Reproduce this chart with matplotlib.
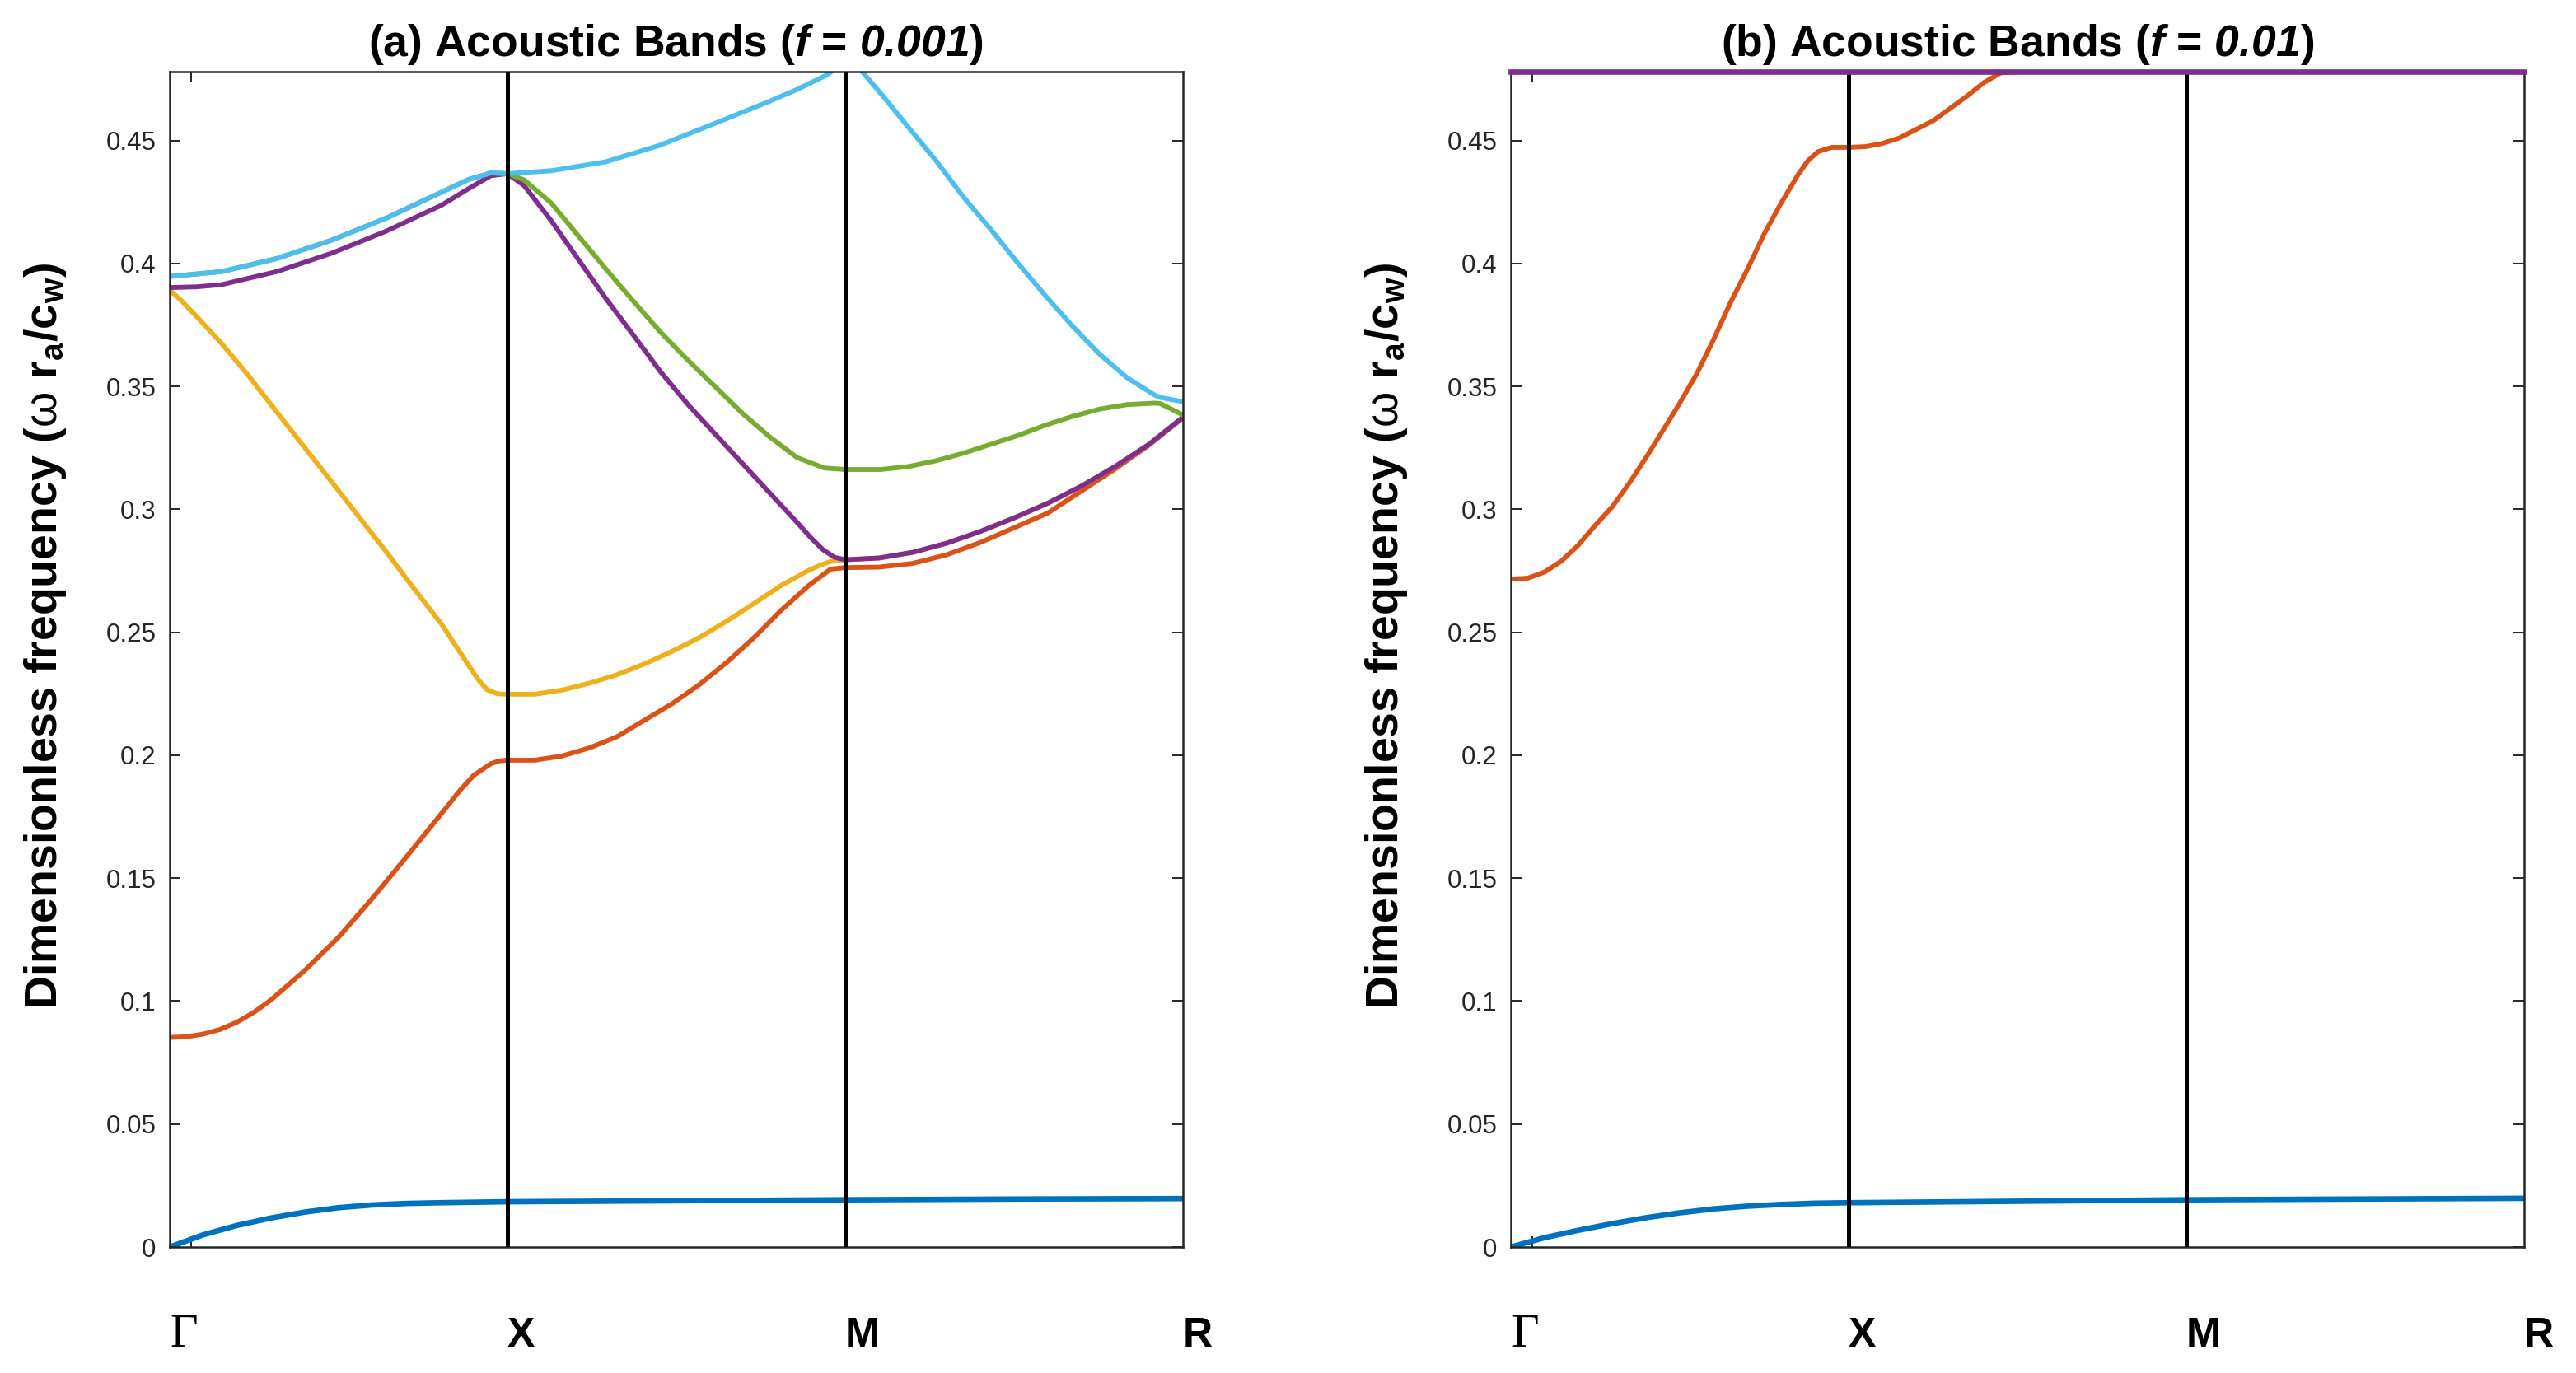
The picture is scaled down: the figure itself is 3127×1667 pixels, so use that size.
import matplotlib
matplotlib.use("Agg")
import matplotlib.pyplot as plt
from matplotlib.transforms import blended_transform_factory

plt.rcParams['font.family'] = ['Liberation Sans', 'DejaVu Sans']
plt.rcParams['mathtext.fontset'] = 'custom'
plt.rcParams['mathtext.rm'] = 'Liberation Sans'
plt.rcParams['mathtext.bf'] = 'Liberation Sans:bold'
plt.rcParams['mathtext.it'] = 'Liberation Sans:italic:bold'
plt.rcParams['mathtext.sf'] = 'Liberation Sans:italic:bold'

# ---------------- data ----------------
k_labels = ['Γ', 'X', 'M', 'R']
k_positions = [0, 1, 2, 3]
y_ticks = [0, 0.05, 0.1, 0.15, 0.2, 0.25, 0.3, 0.35, 0.4, 0.45]
y_tick_labels = ['0', '0.05', '0.1', '0.15', '0.2', '0.25', '0.3', '0.35', '0.4', '0.45']
y_max = 0.478
minor_x_tick = [0.063]

titles = [r'(a) Acoustic Bands ($\mathsf{f}$ = $\mathsf{0.001}$)',
          r'(b) Acoustic Bands ($\mathsf{f}$ = $\mathsf{0.01}$)']
y_label = r'Dimensionless frequency ($\mathrm{\omega}$ $\mathbf{r_a/c_w}$)'

# panel (a)  f = 0.001
a_band1_k = [0, 0.1, 0.2, 0.3, 0.4, 0.5, 0.6, 0.7, 0.8, 0.9, 1.0, 1.5, 2.0, 2.5, 3.0]
a_band1_v = [0, 0.005, 0.0088, 0.0118, 0.0142, 0.016, 0.0171, 0.0177, 0.018, 0.0182, 0.0184,
             0.0188, 0.0192, 0.0195, 0.0197]

a_band2_k = [0, 0.05, 0.1, 0.15, 0.2, 0.25, 0.3, 0.4, 0.5, 0.6, 0.7, 0.8, 0.86, 0.9, 0.95, 0.975, 1.0,
             1.081, 1.162, 1.243, 1.324, 1.405, 1.487, 1.568, 1.649, 1.73, 1.81, 1.892, 1.957, 2.0,
             2.1, 2.2, 2.3, 2.4, 2.5, 2.6, 2.7, 2.8, 2.9, 3.0]
a_band2_v = [0.0852, 0.0855, 0.0866, 0.0885, 0.0915, 0.0955, 0.1005, 0.1125, 0.126, 0.1418, 0.1585, 0.1755,
             0.1858, 0.1918, 0.1965, 0.1977, 0.198,
             0.198, 0.1997, 0.203, 0.2075, 0.2142, 0.2209, 0.2287, 0.2377, 0.2478, 0.2589, 0.269, 0.2757, 0.2763,
             0.2765, 0.278, 0.2815, 0.2865, 0.2925, 0.2985, 0.3075, 0.3165, 0.3262, 0.3372]

a_band3_k = [0, 0.035, 0.073, 0.154, 0.236, 0.317, 0.398, 0.48, 0.561, 0.642, 0.724, 0.805, 0.886, 0.915,
             0.94, 0.97, 1.0,
             1.081, 1.162, 1.243, 1.324, 1.405, 1.487, 1.568, 1.649, 1.73, 1.81, 1.892, 1.93, 1.957, 2.0,
             2.1, 2.2, 2.3, 2.4, 2.5, 2.6, 2.7, 2.8, 2.9, 3.0]
a_band3_v = [0.3892, 0.3848, 0.3794, 0.3674, 0.3539, 0.3396, 0.3254, 0.3111, 0.2968, 0.2826, 0.2676, 0.2533,
             0.2363, 0.2305, 0.2266, 0.2250, 0.2248,
             0.2248, 0.2265, 0.2293, 0.2327, 0.2371, 0.2422, 0.2478, 0.2545, 0.2617, 0.269, 0.2752, 0.2775,
             0.2788, 0.2795,
             0.2802, 0.2825, 0.2862, 0.291, 0.2965, 0.3025, 0.3095, 0.3175, 0.3265, 0.3375]

a_band4_k = [0, 0.08, 0.154, 0.317, 0.48, 0.642, 0.805, 0.886, 0.951, 1.0,
             1.049, 1.13, 1.21, 1.29, 1.372, 1.453, 1.534, 1.615, 1.696, 1.777, 1.858, 1.9, 1.935, 1.968, 2.0,
             2.1, 2.2, 2.3, 2.4, 2.5, 2.6, 2.7, 2.8, 2.9, 3.0]
a_band4_v = [0.3902, 0.3905, 0.3914, 0.3967, 0.4042, 0.4132, 0.4237, 0.4305, 0.4357, 0.4365,
             0.4317, 0.4173, 0.4016, 0.386, 0.371, 0.356, 0.3427, 0.3306, 0.3186, 0.3066, 0.2946, 0.2882,
             0.2835, 0.2805, 0.2795,
             0.2802, 0.2825, 0.2862, 0.291, 0.2965, 0.3025, 0.3095, 0.3175, 0.3265, 0.3375]

a_band5_k = [0, 0.154, 0.317, 0.48, 0.642, 0.805, 0.886, 0.951, 1.0,
             1.049, 1.13, 1.21, 1.29, 1.372, 1.453, 1.534, 1.615, 1.696, 1.777, 1.858, 1.939, 2.0,
             2.105, 2.187, 2.27, 2.349, 2.43, 2.511, 2.592, 2.673, 2.754, 2.835, 2.916, 2.933, 3.0]
a_band5_v = [0.3947, 0.3967, 0.402, 0.4095, 0.4185, 0.429, 0.4342, 0.4368, 0.4365,
             0.434, 0.4245, 0.4112, 0.398, 0.3848, 0.3721, 0.3607, 0.3499, 0.339, 0.3294, 0.321, 0.3168, 0.3162,
             0.3162, 0.3174, 0.3198, 0.3228, 0.3264, 0.330, 0.3342, 0.3378, 0.3408, 0.3426, 0.3432, 0.343, 0.3384]

a_band6_k = [0, 0.154, 0.317, 0.48, 0.642, 0.805, 0.886, 0.951, 1.0,
             1.13, 1.29, 1.45, 1.615, 1.777, 1.858, 1.939, 1.97, 2.0,
             2.05, 2.105, 2.187, 2.27, 2.349, 2.43, 2.511, 2.592, 2.673, 2.754, 2.835, 2.916, 2.933, 3.0]
a_band6_v = [0.3947, 0.3967, 0.402, 0.4095, 0.4185, 0.429, 0.4342, 0.4368, 0.4365,
             0.4377, 0.4413, 0.448, 0.457, 0.466, 0.4708, 0.4762, 0.479, 0.483,
             0.478, 0.4692, 0.4554, 0.4416, 0.4272, 0.414, 0.4002, 0.3870, 0.3745, 0.3630, 0.3535, 0.3465,
             0.3455, 0.3438]

# panel (b)  f = 0.01
b_band1_k = [0, 0.1, 0.2, 0.3, 0.4, 0.5, 0.6, 0.7, 0.8, 0.9, 1.0, 1.5, 2.0, 2.5, 3.0]
b_band1_v = [0, 0.0038, 0.0068, 0.0095, 0.0119, 0.0139, 0.0155, 0.0166, 0.0173, 0.0178, 0.018,
             0.0186, 0.0192, 0.0195, 0.0198]

b_band2_k = [0, 0.05, 0.1, 0.15, 0.2, 0.25, 0.3, 0.35, 0.4, 0.45, 0.5, 0.55, 0.6, 0.65, 0.7, 0.75, 0.8,
             0.85, 0.88, 0.91, 0.95, 1.0, 1.05, 1.1, 1.15, 1.2, 1.25, 1.3, 1.35, 1.4, 1.45, 1.5, 3.0]
b_band2_v = [0.2716, 0.272, 0.2745, 0.279, 0.2855, 0.2935, 0.301, 0.3105, 0.321, 0.332, 0.3432, 0.355,
             0.369, 0.384, 0.3975, 0.412, 0.4245, 0.436, 0.4418, 0.4455, 0.4472, 0.4472, 0.4475, 0.4488,
             0.451, 0.4545, 0.458, 0.463, 0.468, 0.4735, 0.4775, 0.478, 0.478]

b_band4_k = [0, 3.0]
b_band4_v = [0.478, 0.478]

colors = {
    'blue': '#0072BD', 'red': '#D95319', 'yellow': '#EDB120',
    'purple': '#7E2F8E', 'green': '#77AC30', 'cyan': '#4DBEEE',
}

panel_a = [(a_band1_k, a_band1_v, colors['blue']),
           (a_band2_k, a_band2_v, colors['red']),
           (a_band3_k, a_band3_v, colors['yellow']),
           (a_band4_k, a_band4_v, colors['purple']),
           (a_band5_k, a_band5_v, colors['green']),
           (a_band6_k, a_band6_v, colors['cyan'])]
panel_b = [(b_band1_k, b_band1_v, colors['blue']),
           (b_band2_k, b_band2_v, colors['red'])]

# ---------------- figure ----------------
W, H = 3127, 1667
fig = plt.figure(figsize=(W / 100, H / 100), dpi=100)
ax_l, ax_r = 206 / W, 1834 / W
ax_w = 1230 / W
ax_b = 1 - 1514 / H
ax_h = 1427 / H
axes = [fig.add_axes([ax_l, ax_b, ax_w, ax_h]), fig.add_axes([ax_r, ax_b, ax_w, ax_h])]

lw_band = 4.2
tick_color = '#262626'

for i, ax in enumerate(axes):
    bands = panel_a if i == 0 else panel_b
    for kk, vv, c in bands:
        lw = 4.8 if c == colors['blue'] else lw_band
        ax.plot(kk, vv, color=c, lw=lw, solid_joinstyle='round', solid_capstyle='round', zorder=3)
    if i == 1:
        ax.plot(b_band4_k, b_band4_v, color=colors['purple'], lw=lw_band + 0.6,
                zorder=6, clip_on=False)
    for xv in k_positions[1:3]:
        ax.axvline(xv, color='black', lw=3.6, zorder=5)
    ax.set_xlim(0, 3)
    ax.set_ylim(0, y_max)
    ax.set_yticks(y_ticks)
    ax.set_yticklabels(y_tick_labels)
    ax.set_xticks(minor_x_tick)
    ax.set_xticklabels([''])
    ax.tick_params(axis='y', direction='in', length=9.5, width=1.4, left=True, right=True,
                   labelsize=22.5, labelcolor=tick_color, color=tick_color, pad=12)
    ax.tick_params(axis='x', direction='in', length=9.5, width=1.4, top=True, bottom=True,
                   color=tick_color)
    for sp in ax.spines.values():
        sp.set_linewidth(1.8)
        sp.set_color(tick_color)
        sp.set_zorder(4)
    ax.set_title(titles[i], fontsize=38.5, fontweight='bold', pad=14)
    ax.set_ylabel(y_label, fontsize=40, fontweight='bold')
    ax.yaxis.set_label_coords(-0.1, 0.52)
    trans = blended_transform_factory(ax.transData, ax.transAxes)
    for lab, xp in zip(k_labels, k_positions):
        if lab == 'Γ':
            ax.text(xp, -0.085, lab, transform=trans, ha='left', va='baseline',
                    fontsize=42, family=['Liberation Serif', 'DejaVu Serif'], color='black')
        else:
            ax.text(xp, -0.085, lab, transform=trans, ha='left', va='baseline',
                    fontsize=36, fontweight='bold', color='black')

fig.savefig('out.png', dpi=100)
